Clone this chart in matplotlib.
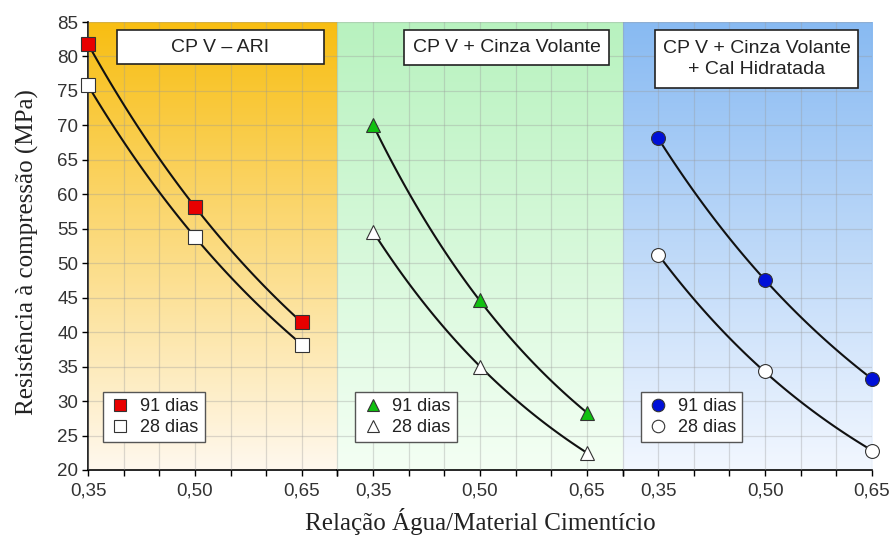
import numpy as np
import matplotlib
matplotlib.use("Agg")
import matplotlib.pyplot as plt
from matplotlib.colors import LinearSegmentedColormap
from matplotlib.patches import Rectangle

# relação a/c ensaiada
wc = [0.35, 0.50, 0.65]

# resistência à compressão (MPa)
ari_91 = [81.8, 58.2, 41.4]
ari_28 = [75.8, 53.8, 38.2]
cv_91 = [70.0, 44.6, 28.3]
cv_28 = [54.6, 35.0, 22.5]
cvch_91 = [68.1, 47.6, 33.2]
cvch_28 = [51.2, 34.3, 22.8]

titles = ["CP V – ARI", "CP V + Cinza Volante", "CP V + Cinza Volante\n+ Cal Hidratada"]
xlims = [(0.35, 0.70), (0.30, 0.70), (0.30, 0.65)]
top_colors = ["#F8BE12", "#B8F2BF", "#88BAF2"]
bottom_colors = ["#FFF8EE", "#F4FFF4", "#F2F7FF"]
markers = ["s", "^", "o"]
fills = ["#E80000", "#10C010", "#0010D8"]
boxes = [(0.116, 0.944, 0.906), (0.235, 0.951, 0.904), (0.132, 0.944, 0.853)]
leg_x = [0.06, 0.063, 0.072]

series = [(ari_91, ari_28), (cv_91, cv_28), (cvch_91, cvch_28)]

fig, axes = plt.subplots(1, 3, sharey=True, figsize=(8.92, 5.37), dpi=100,
                         gridspec_kw=dict(width_ratios=[7, 8, 7], wspace=0))
fig.subplots_adjust(left=0.0987, right=0.9776, bottom=0.1248, top=0.959)

sans = "Liberation Sans"
serif = "Liberation Serif"


def abrams(x, y, xs):
    # ajuste exponencial (lei de Abrams) pelos três pontos
    b, a = np.polyfit(x, np.log(y), 1)
    return np.exp(a + b * xs)


for i, ax in enumerate(axes):
    cmap = LinearSegmentedColormap.from_list("g%d" % i, [bottom_colors[i], top_colors[i]])
    grad = np.linspace(0, 1, 256).reshape(-1, 1)
    ax.imshow(grad, cmap=cmap, origin="lower", aspect="auto",
              extent=[0, 1, 0, 1], transform=ax.transAxes, zorder=0)

    ax.set_xlim(*xlims[i])
    ax.set_ylim(20, 85)
    ax.set_xticks([0.35, 0.50, 0.65])
    ax.set_xticklabels(["0,35", "0,50", "0,65"])
    ax.set_xticks(np.arange(xlims[i][0], xlims[i][1] + 0.001, 0.05), minor=True)
    ax.set_yticks(np.arange(20, 86, 5))
    ax.grid(True, which="both", color="#9a9a9a", alpha=0.35, linewidth=0.9, zorder=1)
    ax.set_axisbelow(False)

    for side in ["top", "right"]:
        ax.spines[side].set_visible(False)
    if i > 0:
        ax.spines["left"].set_visible(False)
        ax.tick_params(axis="y", left=False)
    ax.spines["bottom"].set_linewidth(1.2)
    ax.spines["left"].set_linewidth(1.2)

    ax.tick_params(axis="x", which="both", direction="out", length=4, width=1,
                   labelsize=13.5, labelcolor="#333333", pad=5)
    ax.tick_params(axis="y", direction="out", length=4, width=1,
                   labelsize=13.5, labelcolor="#333333", pad=3)
    for lab in ax.get_xticklabels() + ax.get_yticklabels():
        lab.set_fontfamily(sans)

    y91, y28 = series[i]
    xs = np.linspace(0.35, 0.65, 100)
    ax.plot(xs, abrams(wc, y91, xs), color="#111111", lw=1.5, zorder=3)
    ax.plot(xs, abrams(wc, y28, xs), color="#111111", lw=1.5, zorder=3)
    ax.plot(wc, y91, ls="none", marker=markers[i], ms=10, mfc=fills[i],
            mec="#333333", mew=0.8, zorder=4, clip_on=False, label="91 dias")
    ax.plot(wc, y28, ls="none", marker=markers[i], ms=10, mfc="white",
            mec="#333333", mew=0.8, zorder=4, clip_on=False, label="28 dias")

    x0, x1, y0 = boxes[i]
    ax.add_patch(Rectangle((x0, y0), x1 - x0, 0.982 - y0, transform=ax.transAxes,
                           facecolor="white", edgecolor="#222222", lw=1.2, zorder=5))
    ax.text((x0 + x1) / 2, (y0 + 0.982) / 2, titles[i], transform=ax.transAxes,
            ha="center", va="center", fontsize=14, family=sans, color="#222222",
            linespacing=1.35, zorder=6)

    leg = ax.legend(loc="lower left", bbox_to_anchor=(leg_x[i], 0.062),
                    prop=dict(family=sans, size=13), fancybox=False,
                    edgecolor="#555555", framealpha=1, handletextpad=0.5,
                    handlelength=1.2, borderpad=0.35, labelspacing=0.2,
                    markerscale=0.9, borderaxespad=0)
    leg.get_frame().set_linewidth(1.0)
    leg.set_zorder(6)
    for t in leg.get_texts():
        t.set_color("#222222")

fig.text(0.031, 0.53, "Resistência à compressão (MPa)", rotation=90, ha="center",
         va="center", fontsize=18, family=serif, color="#222222")
fig.text(0.538, 0.028, "Relação Água/Material Cimentício", ha="center",
         va="center", fontsize=18, family=serif, color="#222222")

fig.savefig("out.png", dpi=100)
